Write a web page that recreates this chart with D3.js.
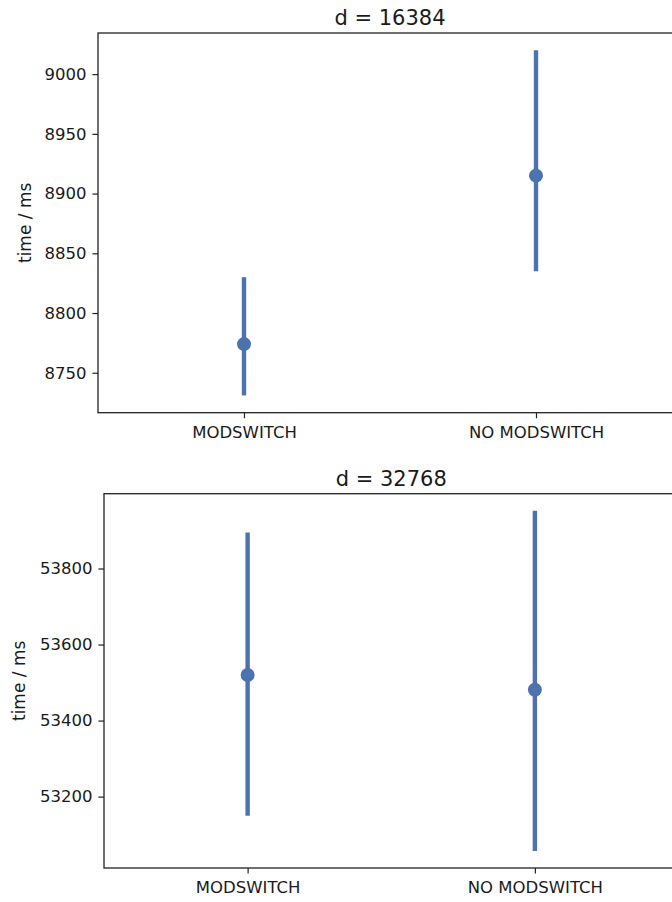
<!DOCTYPE html>
<html>
<head>
<meta charset="utf-8">
<script src="https://cdn.jsdelivr.net/npm/d3@7"></script>
<style>
  body { margin: 0; background: #fff; }
  text { font-family: "DejaVu Sans", sans-serif; fill: #1a1a1a; }
</style>
</head>
<body>
<div id="chart"></div>
<script>
let width = 672;
let height = 902;

// categories on the x axis
const categories = ["MODSWITCH", "NO MODSWITCH"];

// d = 16384
const titles = ["d = 16384", "d = 32768"];
const means16384 = [8774, 8915];
const lower16384 = [8731, 8835];
const upper16384 = [8830, 9020];
const ticks16384 = [8750, 8800, 8850, 8900, 8950, 9000];

// d = 32768
const means32768 = [53520, 53481];
const lower32768 = [53150, 53057];
const upper32768 = [53895, 53952];
const ticks32768 = [53200, 53400, 53600, 53800];

const color = "#4c72b0";

let svg = d3
  .select("#chart")
  .append("svg")
  .attr("width", width)
  .attr("height", height)
  .style("background", "white");

let panels = [
  { title: titles[0], means: means16384, lo: lower16384, hi: upper16384, ticks: ticks16384,
    left: 98, top: 33, bottom: 412.7, right: 682, labelX: 25 },
  { title: titles[1], means: means32768, lo: lower32768, hi: upper32768, ticks: ticks32768,
    left: 104, top: 493.7, bottom: 868, right: 678.5, labelX: 19 },
];

panels.forEach(drawPanel);

function drawPanel(p) {
  let g = svg.append("g");

  let x = d3
    .scalePoint()
    .domain(categories)
    .range([p.left, p.right])
    .padding(0.5);

  // matplotlib style 5% margin around the error bars
  let lo = d3.min(p.lo),
    hi = d3.max(p.hi),
    pad = (hi - lo) * 0.05;
  let y = d3
    .scaleLinear()
    .domain([lo - pad, hi + pad])
    .range([p.bottom, p.top]);

  let rows = categories.map((c, i) => ({
    cat: c,
    mean: p.means[i],
    lo: p.lo[i],
    hi: p.hi[i],
  }));

  // error bars
  g.selectAll("line.err")
    .data(rows)
    .enter()
    .append("line")
    .attr("class", "err")
    .attr("x1", (d) => x(d.cat))
    .attr("x2", (d) => x(d.cat))
    .attr("y1", (d) => y(d.lo))
    .attr("y2", (d) => y(d.hi))
    .attr("stroke", color)
    .attr("stroke-width", 4.4);

  // points
  g.selectAll("circle")
    .data(rows)
    .enter()
    .append("circle")
    .attr("cx", (d) => x(d.cat))
    .attr("cy", (d) => y(d.mean))
    .attr("r", 7)
    .attr("fill", color);

  // y axis
  let yAxis = g
    .append("g")
    .attr("transform", "translate(" + p.left + ",0)")
    .call(d3.axisLeft(y).tickValues(p.ticks).tickSize(5.6).tickPadding(6).tickFormat(d3.format("d")));
  yAxis.select(".domain").remove();
  yAxis.selectAll("line").attr("stroke", "#222").attr("stroke-width", 1.2);
  yAxis.selectAll("text").style("font-size", "16.5px").attr("fill", "#1a1a1a");

  // x axis
  let xAxis = g
    .append("g")
    .attr("transform", "translate(0," + p.bottom + ")")
    .call(d3.axisBottom(x).tickSize(5.6).tickPadding(8));
  xAxis.select(".domain").remove();
  xAxis.selectAll("line").attr("stroke", "#222").attr("stroke-width", 1.2);
  xAxis.selectAll("text").style("font-size", "16.5px").attr("fill", "#1a1a1a");

  // frame
  g.append("rect")
    .attr("x", p.left)
    .attr("y", p.top)
    .attr("width", p.right - p.left)
    .attr("height", p.bottom - p.top)
    .attr("fill", "none")
    .attr("stroke", "#222")
    .attr("stroke-width", 1.3);

  // title
  g.append("text")
    .attr("x", (p.left + p.right) / 2)
    .attr("y", p.top - 8)
    .attr("text-anchor", "middle")
    .style("font-size", "21px")
    .text(p.title);

  // y label
  g.append("text")
    .attr("transform", "translate(" + p.labelX + "," + (p.top + p.bottom) / 2 + ")rotate(-90)")
    .attr("text-anchor", "middle")
    .attr("dominant-baseline", "central")
    .style("font-size", "17px")
    .text("time / ms");
}
</script>
</body>
</html>
